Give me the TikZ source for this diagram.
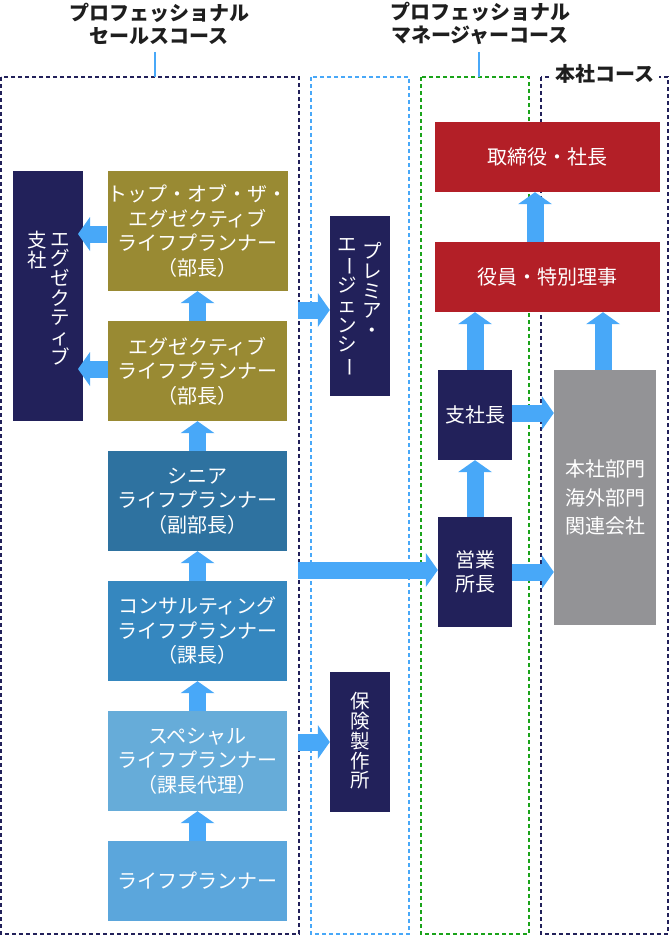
\documentclass[tikz,border=0pt]{standalone}
\usepackage{fontspec}
\setmainfont{Noto Sans CJK JP}
\usetikzlibrary{arrows.meta}
\definecolor{navy}{HTML}{22215A}
\definecolor{olive}{HTML}{998A33}
\definecolor{senior}{HTML}{2E72A0}
\definecolor{consult}{HTML}{3587BF}
\definecolor{special}{HTML}{66ACD9}
\definecolor{lpblue}{HTML}{5BA6DC}
\definecolor{redbox}{HTML}{B31F27}
\definecolor{graybox}{HTML}{939396}
\definecolor{arrowblue}{HTML}{48A8F8}
\definecolor{greendash}{HTML}{1AA31A}
\definecolor{headtext}{HTML}{1E1E1E}
\newcommand\jfont{\fontsize{20}{24.5}\selectfont}
\newcommand\vfont{\fontsize{19.5}{19.7}\selectfont}
\newcommand\hfont{\bfseries\fontsize{20}{23}\selectfont}
\newcommand\vbar{\rotatebox[origin=c]{-90}{ー}}
\begin{document}
\begin{tikzpicture}[x=1pt,y=-1pt,
  box/.style={inner sep=0pt, align=center, text=white, font=\jfont},
  course/.style={line width=1.8pt, dash pattern=on 4pt off 3pt},
  barrow/.style={draw=arrowblue, line width=17pt, -{Triangle[length=12pt,width=34pt,line width=0pt]}},
  vtext/.style={inner sep=0pt, align=center, text=white, font=\vfont},
  head/.style={align=center, font=\hfont, text=headtext, inner sep=0pt},
  hline/.style={draw=arrowblue, line width=1.6pt}
]
\useasboundingbox (0,0) rectangle (670,936);
% course frames
\draw[course, draw=navy] (1,77) rectangle (299,934);
\draw[course, draw=arrowblue] (311,77) rectangle (409,934);
\draw[course, draw=greendash] (421,77) rectangle (529,934);
\draw[course, draw=navy] (541,77) rectangle (668,934);
% headers
\node[head] (h1) at (159,23.5) {プロフェッショナル\\セールスコース};
\node[head] (h2) at (480,23.5) {プロフェッショナル\\マネージャーコース};
\node[head, fill=white, inner xsep=4pt, inner ysep=2pt] (h3) at (605,74) {本社コース};
\coordinate (h1a) at (155,52);
\coordinate (h1b) at (155,77);
\coordinate (h2a) at (479,52);
\coordinate (h2b) at (479,77);
\draw[hline] (h1a) -- (h1b);
\draw[hline] (h2a) -- (h2b);
% left column
\node[box, fill=navy, minimum width=70pt, minimum height=250pt] (exec) at (48,296) {};
\node[vtext] (execA) at (60,299) {エ\\グ\\ゼ\\ク\\テ\\ィ\\ブ};
\node[vtext] (execB) at (37,250) {支\\社};
\node[box, fill=olive, minimum width=179pt, minimum height=120pt] (top) at (197.5,231) {トップ・オブ・ザ・\\エグゼクティブ\\ライフプランナー\\（部長）};
\node[box, fill=olive, minimum width=179pt, minimum height=100pt] (exlp) at (197.5,371) {エグゼクティブ\\ライフプランナー\\（部長）};
\node[box, fill=senior, minimum width=179pt, minimum height=100pt] (senior) at (197.5,501) {シニア\\ライフプランナー\\（副部長）};
\node[box, fill=consult, minimum width=179pt, minimum height=100pt] (consult) at (197.5,631) {コンサルティング\\ライフプランナー\\（課長）};
\node[box, fill=special, minimum width=179pt, minimum height=100pt] (special) at (197.5,761) {スペシャル\\ライフプランナー\\（課長代理）};
\node[box, fill=lpblue, minimum width=179pt, minimum height=80pt] (lp) at (197.5,881) {ライフプランナー};
% middle column
\node[box, fill=navy, minimum width=60pt, minimum height=180pt] (premier) at (360,306) {};
\node[vtext] (premA) at (372,290) {プ\\レ\\ミ\\ア\\・};
\node[vtext] (premB) at (347,307.5) {エ\\\vbar\\ジ\\ェ\\ン\\シ\\\vbar};
\node[box, fill=navy, minimum width=60pt, minimum height=140pt] (hoken) at (360,742) {};
\node[vtext] (hokenA) at (360,741) {保\\険\\製\\作\\所};
% right columns
\node[box, fill=redbox, minimum width=225pt, minimum height=70pt] (pres) at (547.5,157) {取締役・社長};
\node[box, fill=redbox, minimum width=225pt, minimum height=70pt] (yakuin) at (547.5,277) {役員・特別理事};
\node[box, fill=navy, minimum width=74pt, minimum height=90pt] (shisha) at (475,415) {支社長};
\node[box, fill=navy, minimum width=74pt, minimum height=110pt] (eigyo) at (475,572) {営業\\所長};
\node[box, fill=graybox, minimum width=102pt, minimum height=255pt] (honsha) at (605,497.5) {本社部門\\[4pt]海外部門\\[4pt]関連会社};
% arrows: left column ups
\draw[barrow] (lp.north) -- (special.south);
\draw[barrow] (special.north) -- (consult.south);
\draw[barrow] (consult.north) -- (senior.south);
\draw[barrow] (senior.north) -- (exlp.south);
\draw[barrow] (exlp.north) -- (top.south);
% arrows to executive branch
\draw[barrow] (top.west |- 0,234) -- (78,234);
\draw[barrow] (exlp.west |- 0,369) -- (78,369);
% arrows to the right
\coordinate (pa) at (298,310);
\coordinate (ea) at (298,570);
\coordinate (ha) at (298,742);
\draw[barrow] (pa) -- (premier.west |- pa);
\draw[barrow] (ea) -- (eigyo.west |- ea);
\draw[barrow] (ha) -- (hoken.west |- ha);
% manager arrows
\draw[barrow] (eigyo.north) -- (shisha.south);
\draw[barrow] (shisha.north) -- (yakuin.south -| shisha.north);
\draw[barrow] (honsha.north -| 603,0) -- (yakuin.south -| 603,0);
\draw[barrow] (yakuin.north -| 535,0) -- (pres.south -| 535,0);
\draw[barrow] (shisha.east |- 0,413) -- (honsha.west |- 0,413);
\draw[barrow] (eigyo.east |- 0,572) -- (honsha.west |- 0,572);
\end{tikzpicture}
\end{document}
